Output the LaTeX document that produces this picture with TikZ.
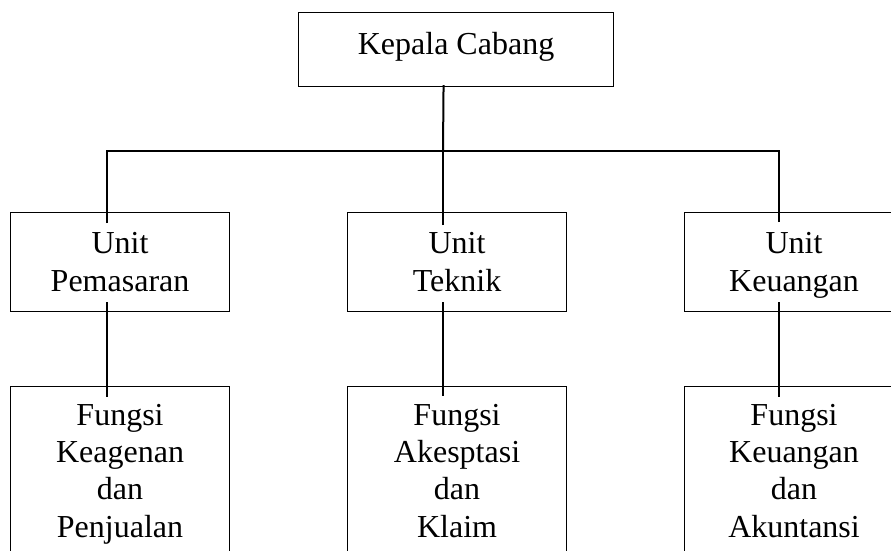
\documentclass[tikz,border=0pt]{standalone}
\usepackage{fontspec}
\setmainfont{Liberation Serif}
\usetikzlibrary{calc}
\begin{document}
\begin{tikzpicture}[x=1pt,y=-1pt,
  orgbox/.style={draw=black, line width=1.1pt, rectangle, anchor=north west,
    minimum width=219pt, inner sep=0pt},
  lbl/.style={anchor=north, inner sep=0pt, align=center},
  unitfont/.style={font=\fontsize{32}{38.5}\selectfont},
  funcfont/.style={font=\fontsize{32}{37.3}\selectfont},
  conn/.style={draw=black, line width=2pt}]
\useasboundingbox (0,0) rectangle (891,551);
\clip (0,0) rectangle (891,551);
\fill[white] (0,0) rectangle (891,551);

% head of the branch
\node[orgbox, minimum width=315pt, minimum height=74pt] (kc) at (298,12) {};
\node[lbl, unitfont] (kct) at ($(kc.north)+(0,15.5)$) {\strut Kepala Cabang};

% units
\node[orgbox, minimum height=99pt] (u1) at (10,212)  {};
\node[orgbox, minimum height=99pt] (u2) at (347,212) {};
\node[orgbox, minimum height=99pt] (u3) at (684,212) {};
\node[lbl, unitfont] (u1t) at ($(u1.north)+(0,14)$) {\strut Unit\\Pemasaran};
\node[lbl, unitfont] (u2t) at ($(u2.north)+(0,14)$) {\strut Unit\\Teknik};
\node[lbl, unitfont] (u3t) at ($(u3.north)+(0,14)$) {\strut Unit\\Keuangan};

% functions under each unit
\node[orgbox, minimum height=175pt] (f1) at (10,386)  {};
\node[orgbox, minimum height=175pt] (f2) at (347,386) {};
\node[orgbox, minimum height=175pt] (f3) at (684,386) {};
\node[lbl, funcfont] (f1t) at ($(f1.north)+(0,12.9)$) {\strut Fungsi\\Keagenan\\dan\\Penjualan};
\node[lbl, funcfont] (f2t) at ($(f2.north)+(0,12.9)$) {\strut Fungsi\\Akesptasi\\dan\\Klaim};
\node[lbl, funcfont] (f3t) at ($(f3.north)+(0,12.9)$) {\strut Fungsi\\Keuangan\\dan\\Akuntansi};

% connectors
\coordinate (bus) at (443,151);
\coordinate (d1) at ($(u1.north west)+(97,11)$);
\coordinate (d2) at ($(u2.north west)+(96,13)$);
\coordinate (d3) at ($(u3.north west)+(95,10)$);
\draw[conn] ($(kc.south)+(-12.5,-2)$) -- (bus);
\draw[conn] (d1) |- (bus);
\draw[conn] (d3) |- (bus);
\draw[conn] (d2) -- (d2 |- bus);
\draw[conn] ($(u1.south west)+(97,-10)$) -- ($(f1.north west)+(97,11)$);
\draw[conn] ($(u2.south west)+(96,-10)$) -- ($(f2.north west)+(96,10)$);
\draw[conn] ($(u3.south west)+(95,-10)$) -- ($(f3.north west)+(95,11)$);
\end{tikzpicture}
\end{document}
